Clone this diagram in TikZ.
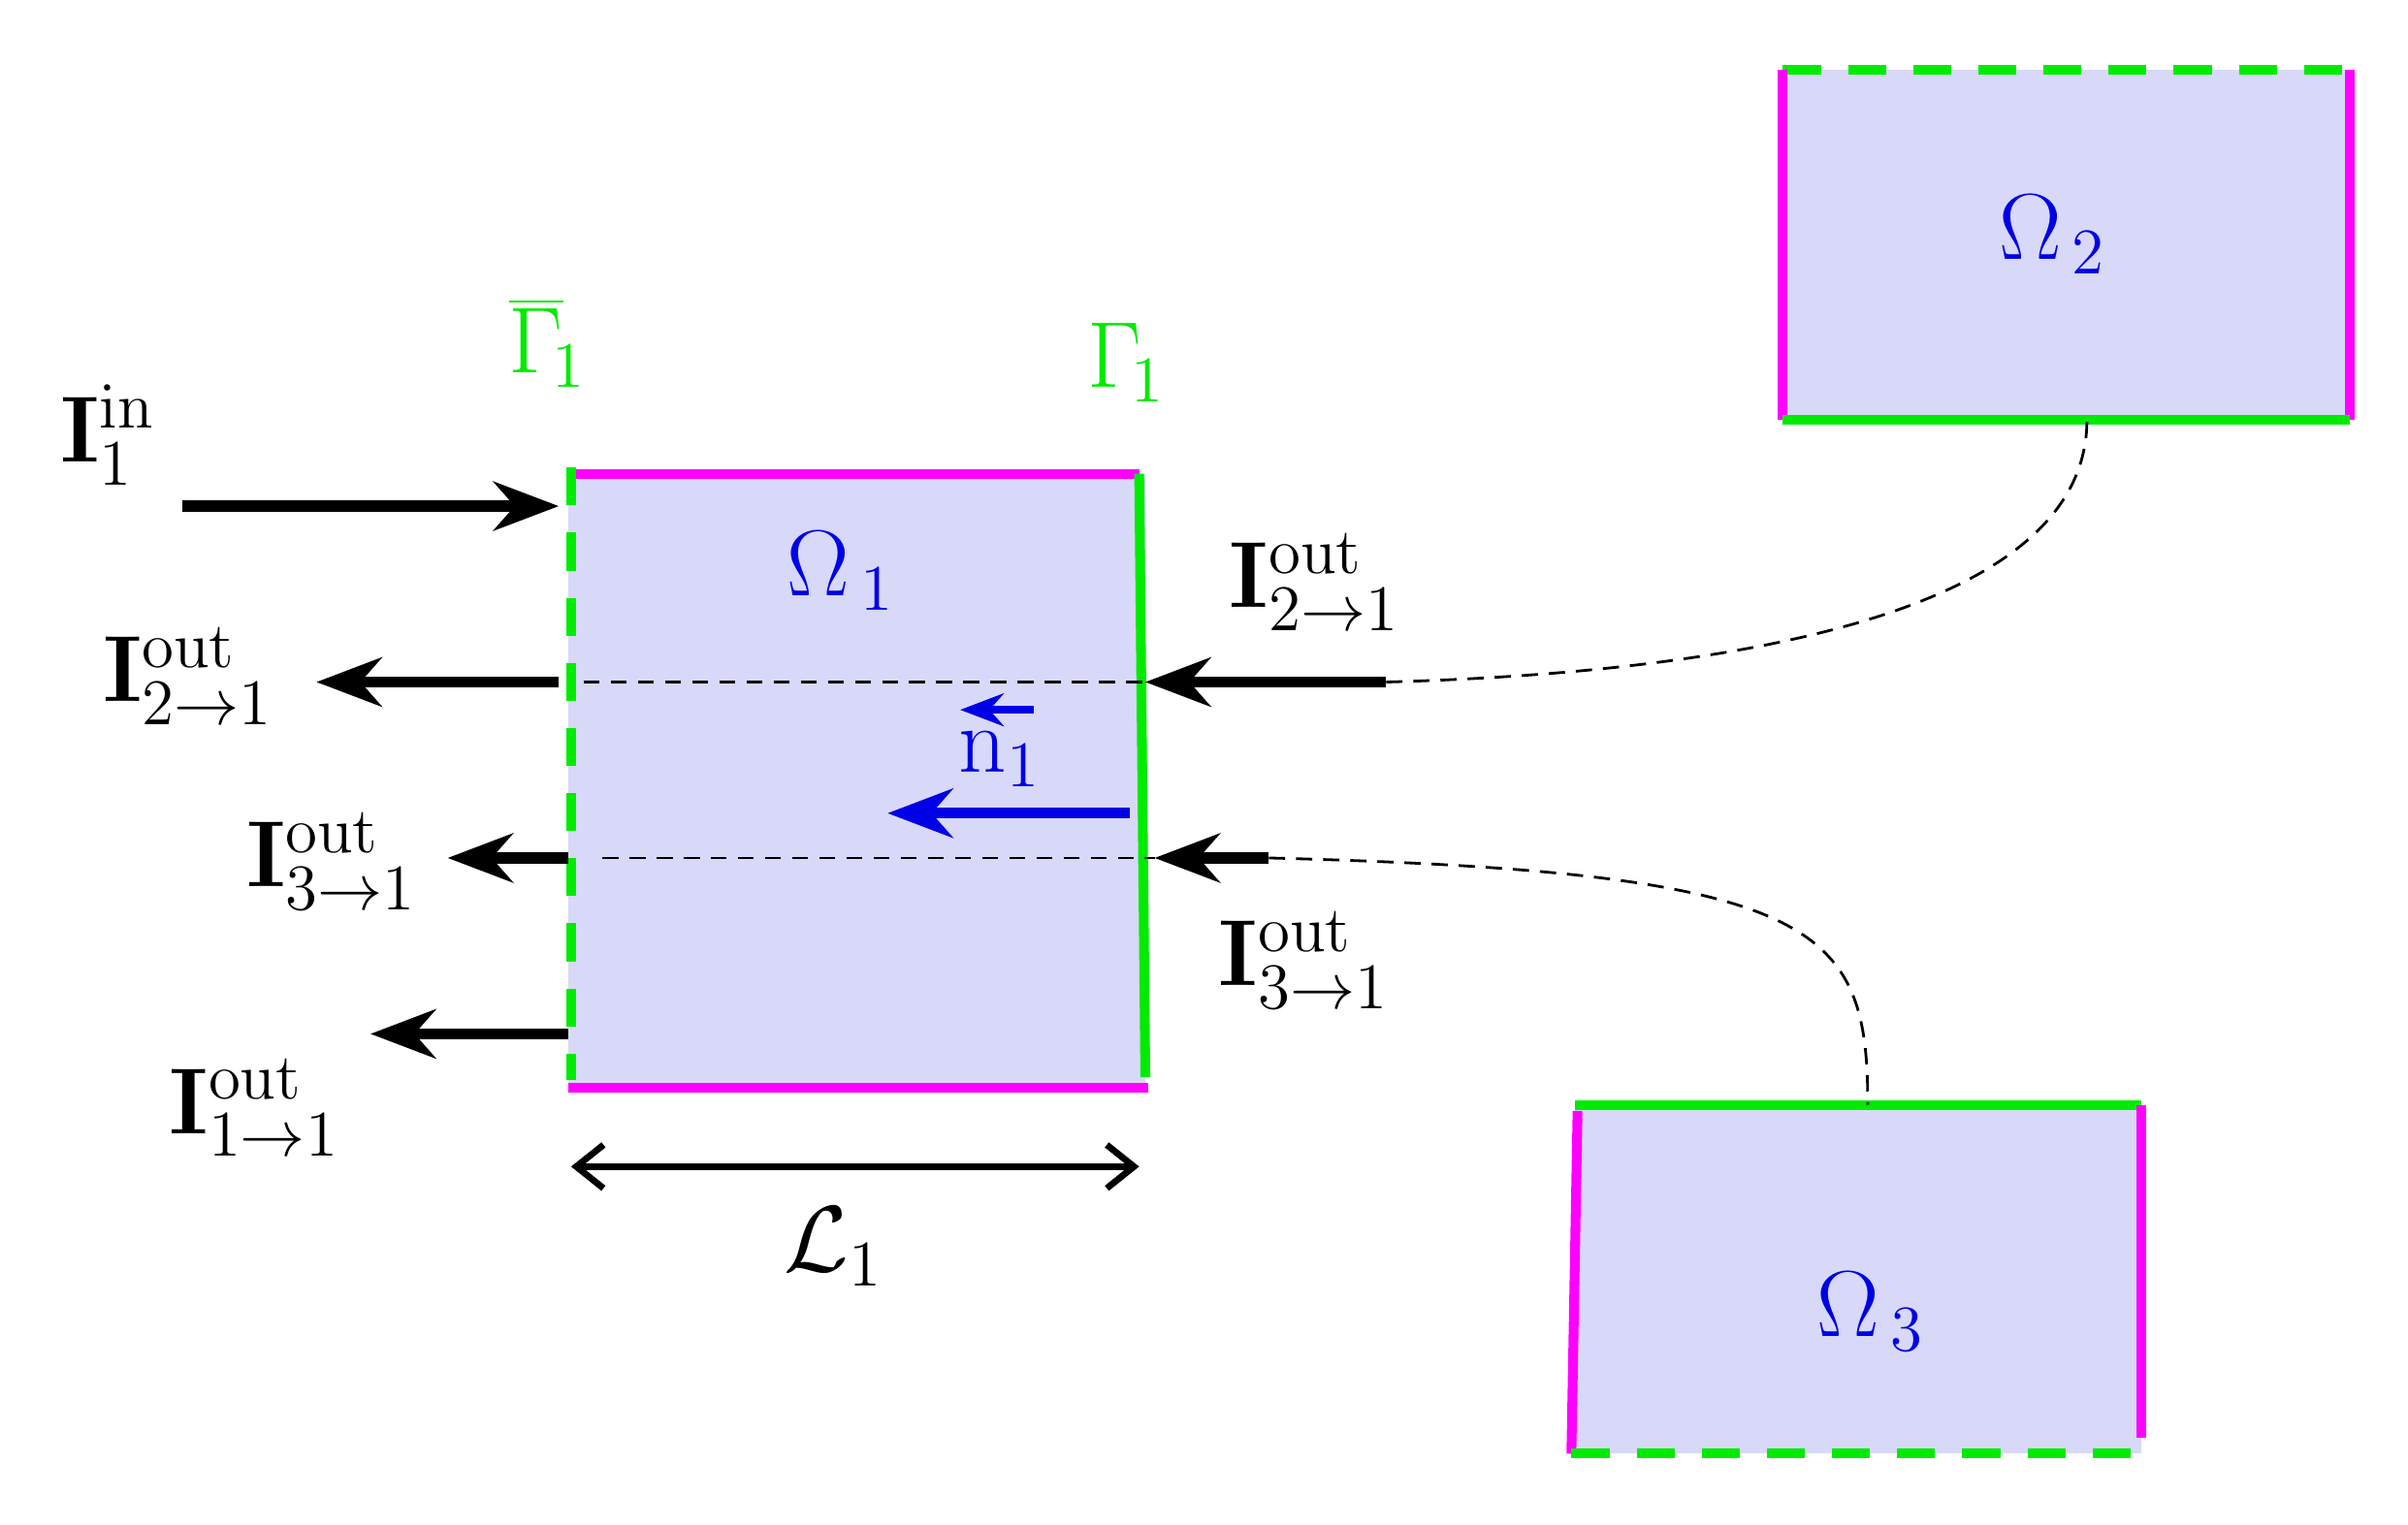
\documentclass[tikz,border=0pt]{standalone}
\usetikzlibrary{arrows.meta}
\definecolor{fillc}{RGB}{216,216,248}
\definecolor{mag}{RGB}{255,0,255}
\definecolor{grn}{RGB}{0,235,0}
\definecolor{blu}{RGB}{0,0,230}
\begin{document}
\begin{tikzpicture}[x=0.01cm,y=-0.01cm,
  mline/.style={mag,line width=1.8pt},
  gline/.style={grn,line width=1.8pt},
  gdash/.style={grn,line width=1.8pt,dash pattern=on 7pt off 5pt},
  arr/.style={line width=2pt,-{Stealth[length=12pt,width=9pt]}},
  thin dash/.style={line width=0.5pt,dash pattern=on 3pt off 2pt},
  lab/.style={font=\fontsize{17}{20}\selectfont,inner sep=0pt},
  om/.style={lab,text=blu}]
\useasboundingbox (0,0) rectangle (1560,988);
% Omega1
\fill[fillc] (368,307) rectangle (742,705);
\draw[mline] (368,307) -- (738,307);
\draw[mline] (368,705) -- (744,705);
\draw[gdash] (370,303) -- (370,700);
\draw[gline] (738,307) -- (742,698);
% Omega2
\fill[fillc] (1155,45) rectangle (1522,272);
\draw[gdash] (1155,45) -- (1522,45);
\draw[mline] (1155,45) -- (1155,272);
\draw[mline] (1522,45) -- (1522,272);
\draw[gline] (1155,272) -- (1522,272);
% Omega3
\fill[fillc] (1020,716) rectangle (1387,942);
\draw[gline] (1020,716) -- (1387,716);
\draw[mline] (1022,720) -- (1018,942);
\draw[mline] (1387,716) -- (1387,932);
\draw[gdash] (1018,942) -- (1387,942);
% labels
\node[om] (o1) at (545,370) {$\Omega_{\,1}$};
\node[om] (o2) at (1330,152) {$\Omega_{\,2}$};
\node[om] (o3) at (1212,850) {$\Omega_{\,3}$};
\node[lab,text=grn] (gb) at (355,222) {$\overline{\Gamma}_{\!1}$};
\node[lab,text=grn] (g) at (730,235) {$\Gamma_{\!1}$};
% inflow
\coordinate (a1) at (118,328); \coordinate (a2) at (362,328);
\draw[arr] (a1) -- (a2);
\node[lab] (iin) at (70,282) {$\mathbf{I}_1^{\mathrm{in}}$};
% left outflows
\coordinate (l1s) at (362,442); \coordinate (l1e) at (205,442);
\coordinate (l2s) at (368,556); \coordinate (l2e) at (290,556);
\coordinate (l3s) at (368,670); \coordinate (l3e) at (240,670);
\draw[arr] (l1s) -- (l1e);
\draw[arr] (l2s) -- (l2e);
\draw[arr] (l3s) -- (l3e);
\node[lab] (t1) at (122,438) {$\mathbf{I}^{\mathrm{out}}_{2\rightarrow 1}$};
\node[lab] (t2) at (215,558) {$\mathbf{I}^{\mathrm{out}}_{3\rightarrow 1}$};
\node[lab] (t3) at (165,718) {$\mathbf{I}^{\mathrm{out}}_{1\rightarrow 1}$};
% right inflows
\coordinate (r1s) at (898,442); \coordinate (r1e) at (742,442);
\coordinate (r2s) at (822,556); \coordinate (r2e) at (748,556);
\draw[arr] (r1s) -- (r1e);
\draw[arr] (r2s) -- (r2e);
\node[lab] (t4) at (852,377) {$\mathbf{I}^{\mathrm{out}}_{2\rightarrow 1}$};
\node[lab] (t5) at (845,622) {$\mathbf{I}^{\mathrm{out}}_{3\rightarrow 1}$};
% thin dashed lines
\coordinate (d1) at (378,442); \coordinate (d2) at (390,556);
\draw[thin dash] (d1) -- (r1e);
\draw[thin dash] (d2) -- (r2e);
\coordinate (b2) at (1352,272); \coordinate (b3) at (1210,716);
\draw[thin dash] (r1s) .. controls (1150,435) and (1352,390) .. (b2);
\draw[thin dash] (r2s) .. controls (1180,565) and (1210,600) .. (b3);
% normal
\coordinate (n1s) at (732,527); \coordinate (n1e) at (575,527);
\draw[blu,arr] (n1s) -- (n1e);
\coordinate (n2s) at (670,460); \coordinate (n2e) at (622,460);
\draw[blu,line width=1.5pt,-{Stealth[length=8pt,width=6pt]}] (n2s) -- (n2e);
\node[om] (n) at (648,492) {$\mathrm{n}_1$};
% L1
\coordinate (L1) at (370,756); \coordinate (L2) at (738,756);
\draw[line width=1.2pt,{Straight Barb[length=5pt,width=8pt]}-{Straight Barb[length=5pt,width=8pt]}] (L1) -- (L2);
\node[lab] (L) at (540,808) {$\mathcal{L}_1$};
\end{tikzpicture}
\end{document}
